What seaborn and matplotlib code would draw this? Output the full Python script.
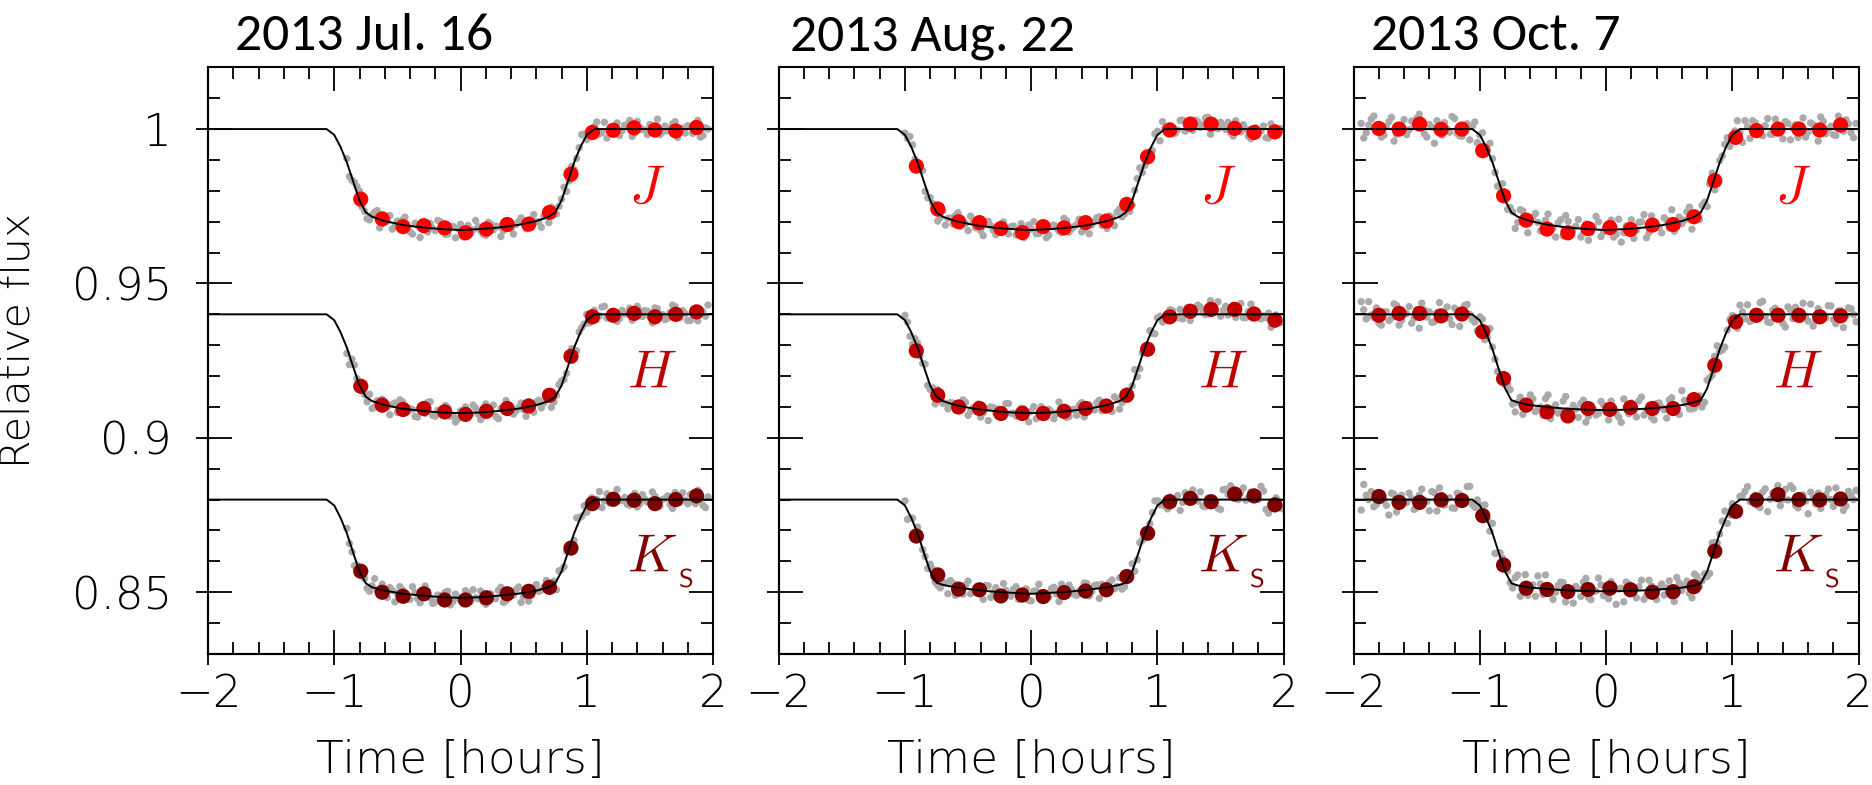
import numpy as np
import pandas as pd
import matplotlib
matplotlib.use("Agg")
import matplotlib.pyplot as plt
import seaborn as sns
from matplotlib import font_manager as fm
from matplotlib.textpath import TextPath
from matplotlib.font_manager import FontProperties
from matplotlib.ticker import MultipleLocator, FixedLocator, FixedFormatter, NullLocator

# ---------------- data (relative flux; H and Ks are shown shifted) ----------------
titles = ["2013 Jul. 16", "2013 Aug. 22", "2013 Oct. 7"]
bands = ["J", "H", "K"]
band_labels = [r"$J$", r"$H$", r"$K_{{}_{\,\mathsf{S}}}$"]

model_t = [-2.0, -1.06, -1.0, -0.95, -0.9, -0.85, -0.8, -0.75, -0.7, -0.6, -0.45, -0.3, -0.15, 0.0,
           0.15, 0.3, 0.45, 0.6, 0.7, 0.75, 0.8, 0.85, 0.9, 0.95, 1.0, 1.06, 2.0]
model_J = [10000, 10000, 9981, 9942, 9892, 9830, 9769, 9730, 9716, 9702, 9689, 9681, 9676, 9673,
           9676, 9681, 9689, 9702, 9716, 9730, 9769, 9830, 9892, 9942, 9981, 10000, 10000]
model_H12 = [10000, 10000, 9981, 9942, 9892, 9830, 9769, 9733, 9719, 9706, 9694, 9687, 9682, 9680,
             9682, 9687, 9694, 9706, 9719, 9733, 9769, 9830, 9892, 9942, 9981, 10000, 10000]
model_H3 = [10000, 10000, 9980, 9939, 9887, 9822, 9760, 9722, 9715, 9706, 9699, 9694, 9691, 9690,
            9691, 9694, 9699, 9706, 9715, 9722, 9760, 9822, 9887, 9939, 9980, 10000, 10000]
model_K1 = [10000, 10000, 9981, 9941, 9891, 9828, 9767, 9729, 9716, 9705, 9695, 9689, 9684, 9682,
            9684, 9689, 9695, 9705, 9716, 9729, 9767, 9828, 9891, 9941, 9981, 10000, 10000]
model_K2 = [10000, 10000, 9981, 9941, 9891, 9828, 9767, 9731, 9724, 9716, 9708, 9702, 9698, 9695,
            9698, 9702, 9708, 9716, 9724, 9731, 9767, 9828, 9891, 9941, 9981, 10000, 10000]
model_K3 = [10000, 10000, 9981, 9941, 9891, 9828, 9767, 9729, 9722, 9715, 9710, 9706, 9704, 9703,
            9704, 9706, 9710, 9715, 9722, 9729, 9767, 9828, 9891, 9941, 9981, 10000, 10000]

# binned points
bin_t_jul = [-0.79, -0.62, -0.455, -0.29, -0.125, 0.04, 0.205, 0.37, 0.54, 0.705, 0.875, 1.045,
             1.21, 1.375, 1.54, 1.705, 1.87]
bin_jul_J = [0.9773, 0.9709, 0.9684, 0.9687, 0.9680, 0.9664, 0.9676, 0.9691, 0.9692, 0.9730, 0.9854,
             0.9989, 0.9996, 1.0004, 0.9997, 0.9994, 1.0005]
bin_jul_H = [0.9767, 0.9706, 0.9692, 0.9695, 0.9684, 0.9676, 0.9686, 0.9695, 0.9703, 0.9738, 0.9864,
             0.9992, 0.9997, 1.0003, 0.9992, 1.0000, 1.0008]
bin_jul_K = [0.9768, 0.9700, 0.9687, 0.9695, 0.9675, 0.9675, 0.9682, 0.9695, 0.9703, 0.9716, 0.9843,
             0.9987, 1.0001, 0.9998, 0.9987, 1.0000, 1.0012]

bin_t_aug = [-0.91, -0.74, -0.575, -0.41, -0.24, -0.07, 0.095, 0.26, 0.43, 0.595, 0.757, 0.922,
             1.097, 1.26, 1.425, 1.612, 1.765, 1.93]
bin_aug_J = [0.9880, 0.9741, 0.9700, 0.9697, 0.9678, 0.9665, 0.9684, 0.9680, 0.9697, 0.9702, 0.9756,
             0.9910, 0.9997, 1.0016, 1.0016, 1.0002, 0.9989, 0.9991]
bin_aug_H = [0.9882, 0.9738, 0.9700, 0.9695, 0.9679, 0.9679, 0.9679, 0.9686, 0.9695, 0.9703, 0.9738,
             0.9887, 0.9992, 1.0010, 1.0016, 1.0016, 1.0001, 0.9981]
bin_aug_K = [0.9882, 0.9756, 0.9710, 0.9708, 0.9688, 0.9691, 0.9686, 0.9699, 0.9704, 0.9708, 0.9751,
             0.9891, 0.9993, 1.0004, 0.9993, 1.0018, 1.0012, 0.9983]

bin_t_oct = [-1.80, -1.64, -1.477, -1.307, -1.142, -0.977, -0.812, -0.633, -0.468, -0.303, -0.143,
             0.03, 0.193, 0.366, 0.531, 0.696, 0.861, 1.026, 1.191, 1.362, 1.527, 1.692, 1.857]
bin_oct_J = [1.0002, 1.0000, 1.0016, 0.9999, 1.0000, 0.9930, 0.9784, 0.9705, 0.9676, 0.9664, 0.9678,
             0.9681, 0.9675, 0.9689, 0.9691, 0.9716, 0.9833, 0.9973, 0.9995, 1.0000, 1.0000, 0.9997, 1.0013]
bin_oct_H = [0.9997, 1.0003, 1.0003, 0.9995, 1.0001, 0.9944, 0.9792, 0.9706, 0.9684, 0.9671, 0.9695,
             0.9692, 0.9698, 0.9695, 0.9695, 0.9724, 0.9835, 0.9976, 0.9997, 0.9997, 0.9997, 0.9992, 0.9995]
bin_oct_K = [1.0010, 0.9991, 0.9991, 0.9999, 0.9997, 0.9948, 0.9788, 0.9713, 0.9709, 0.9702, 0.9709,
             0.9713, 0.9708, 0.9700, 0.9702, 0.9718, 0.9833, 0.9962, 0.9999, 1.0016, 1.0000, 0.9999, 1.0002]

# individual exposures (relative flux x 1e4)
gray_t_jul = [-0.90, -0.86, -0.82, -0.78, -0.74, -0.70, -0.66, -0.62, -0.58, -0.54, -0.50, -0.46,
              -0.42, -0.38, -0.34, -0.30, -0.26, -0.22, -0.18, -0.14, -0.10, -0.06, -0.02, 0.02,
              0.06, 0.10, 0.14, 0.18, 0.22, 0.26, 0.30, 0.34, 0.38, 0.42, 0.46, 0.50, 0.54, 0.58,
              0.62, 0.66, 0.70, 0.74, 0.78, 0.82, 0.86, 0.90, 0.94, 0.98, 1.02, 1.06, 1.10, 1.14,
              1.18, 1.22, 1.26, 1.30, 1.34, 1.38, 1.42, 1.46, 1.50, 1.54, 1.58, 1.62, 1.66, 1.70,
              1.74, 1.78, 1.82, 1.86, 1.90, 1.94]
gray_jul_J = [9904, 9834, 9814, 9748, 9710, 9722, 9736, 9694, 9702, 9676,
              9702, 9705, 9681, 9660, 9687, 9699, 9667, 9678, 9704, 9667,
              9660, 9685, 9678, 9651, 9688, 9673, 9684, 9659, 9698, 9673,
              9684, 9671, 9701, 9660, 9700, 9694, 9682, 9723, 9700, 9718,
              9697, 9740, 9750, 9812, 9832, 9868, 9940, 9984, 9985, 10009,
              9984, 10022, 9992, 10002, 9979, 10012, 10028, 9988, 10005, 9997,
              10015, 9991, 9982, 10010, 10000, 10024, 9994, 9987, 10008, 10019,
              9974, 10004]
gray_jul_H = [9873, 9855, 9792, 9770, 9717, 9695, 9720, 9725, 9699, 9708,
              9682, 9717, 9684, 9692, 9667, 9700, 9715, 9673, 9689, 9680,
              9697, 9672, 9662, 9690, 9681, 9706, 9677, 9671, 9693, 9706,
              9662, 9692, 9701, 9677, 9698, 9691, 9717, 9683, 9722, 9713,
              9726, 9716, 9772, 9789, 9858, 9869, 9943, 9969, 9972, 10013,
              9995, 10026, 9990, 10006, 9986, 10001, 10020, 9992, 10012, 10012,
              9992, 10021, 9997, 9983, 10006, 10025, 9989, 10002, 9980, 10009,
              10015, 9994]
gray_jul_K = [9907, 9831, 9788, 9773, 9713, 9721, 9706, 9726, 9683, 9706,
              9696, 9708, 9677, 9718, 9679, 9689, 9703, 9664, 9691, 9678,
              9703, 9670, 9683, 9663, 9693, 9708, 9679, 9669, 9691, 9680,
              9706, 9667, 9699, 9691, 9717, 9687, 9671, 9715, 9703, 9717,
              9704, 9736, 9769, 9783, 9842, 9868, 9940, 9980, 9981, 9981,
              10026, 9996, 9989, 10015, 9997, 10007, 9982, 10020, 9986, 10001,
              9993, 10011, 9979, 10004, 9984, 10023, 9991, 9998, 10017, 9987,
              10005, 9974]
gray2_t_jul = [-0.88, -0.84, -0.80, -0.76, -0.72, -0.68, -0.64, -0.60, -0.56, -0.52, -0.48, -0.44,
               -0.40, -0.36, -0.32, -0.28, -0.24, -0.20, -0.16, -0.12, -0.08, -0.04, 0.00, 0.04,
               0.08, 0.12, 0.16, 0.20, 0.24, 0.28, 0.32, 0.36, 0.40, 0.44, 0.48, 0.52, 0.56, 0.60,
               0.64, 0.68, 0.72, 0.76, 0.80, 0.84, 0.88, 0.92, 0.96, 1.00, 1.04, 1.08, 1.12, 1.16,
               1.20, 1.24, 1.28, 1.32, 1.36, 1.40, 1.44, 1.48, 1.52, 1.56, 1.60, 1.64, 1.68, 1.72,
               1.76, 1.80, 1.84, 1.88, 1.92, 1.96]
gray2_jul_J = [9846, 9827, 9799, 9734, 9706, 9731, 9680, 9707, 9720, 9684,
               9690, 9715, 9667, 9695, 9649, 9683, 9694, 9671, 9700, 9659,
               9682, 9648, 9692, 9673, 9662, 9704, 9670, 9656, 9692, 9686,
               9652, 9702, 9677, 9691, 9712, 9677, 9708, 9699, 9682, 9730,
               9747, 9725, 9773, 9798, 9879, 9905, 9982, 9966, 9997, 10023,
               9989, 9971, 10007, 10020, 9995, 10014, 9976, 10025, 9998, 9982,
               10009, 10032, 9990, 9994, 10017, 9973, 10003, 10011, 9986, 10028,
               9979, 10000]
gray2_jul_H = [9837, 9836, 9760, 9740, 9741, 9700, 9721, 9702, 9675, 9713,
               9723, 9681, 9695, 9669, 9699, 9679, 9717, 9670, 9684, 9705,
               9670, 9651, 9687, 9700, 9676, 9696, 9659, 9710, 9684, 9669,
               9696, 9721, 9681, 9688, 9713, 9670, 9704, 9716, 9697, 9745,
               9699, 9738, 9784, 9809, 9889, 9882, 9957, 10000, 9992, 9984,
               10024, 9988, 10008, 9977, 10013, 10002, 9981, 10026, 9993, 10010,
               9972, 10018, 9999, 9987, 10030, 9995, 10012, 9980, 10004, 9979,
               10009, 10030]
gray2_jul_K = [9858, 9786, 9779, 9744, 9703, 9744, 9708, 9694, 9715, 9669,
               9718, 9695, 9677, 9699, 9666, 9720, 9682, 9668, 9689, 9700,
               9659, 9694, 9674, 9705, 9670, 9682, 9704, 9661, 9695, 9679,
               9716, 9672, 9693, 9708, 9667, 9702, 9689, 9725, 9707, 9738,
               9711, 9708, 9773, 9832, 9850, 9941, 9946, 9959, 10006, 10001,
               9974, 10019, 9989, 10033, 9997, 9985, 10007, 9976, 10016, 9992,
               10025, 9981, 10000, 10012, 9971, 10006, 10022, 9987, 9994, 10030,
               9982, 10009]

gray_t_aug = [-1.00, -0.96, -0.92, -0.88, -0.84, -0.80, -0.76, -0.72, -0.68, -0.64, -0.60, -0.56,
              -0.52, -0.48, -0.44, -0.40, -0.36, -0.32, -0.28, -0.24, -0.20, -0.16, -0.12, -0.08,
              -0.04, 0.00, 0.04, 0.08, 0.12, 0.16, 0.20, 0.24, 0.28, 0.32, 0.36, 0.40, 0.44, 0.48,
              0.52, 0.56, 0.60, 0.64, 0.68, 0.72, 0.76, 0.80, 0.84, 0.88, 0.92, 0.96, 1.00, 1.04,
              1.08, 1.12, 1.16, 1.20, 1.24, 1.28, 1.32, 1.36, 1.40, 1.44, 1.48, 1.52, 1.56, 1.60,
              1.64, 1.68, 1.72, 1.76, 1.80, 1.84, 1.88, 1.92, 1.96, 2.00]
gray_aug_J = [9987, 9976, 9902, 9869, 9798, 9778, 9753, 9714, 9689, 9712,
              9720, 9685, 9694, 9718, 9680, 9671, 9695, 9687, 9658, 9693,
              9676, 9684, 9657, 9694, 9666, 9676, 9661, 9690, 9648, 9686,
              9679, 9665, 9703, 9677, 9691, 9667, 9702, 9690, 9713, 9688,
              9678, 9714, 9731, 9716, 9747, 9753, 9840, 9859, 9915, 9930,
              9993, 10024, 9988, 10005, 9997, 10029, 10005, 9996, 10024, 10014,
              10038, 10008, 10001, 10011, 10022, 9977, 10007, 10014, 9977, 9995,
              9985, 10010, 9971, 10005, 9990, 9998]
gray_aug_H = [9997, 9929, 9921, 9865, 9839, 9757, 9710, 9732, 9712, 9714,
              9690, 9710, 9715, 9686, 9694, 9667, 9695, 9700, 9679, 9667,
              9711, 9679, 9671, 9696, 9677, 9687, 9662, 9701, 9668, 9684,
              9678, 9697, 9666, 9691, 9673, 9714, 9685, 9694, 9714, 9688,
              9710, 9685, 9727, 9714, 9752, 9768, 9798, 9875, 9901, 9939,
              9989, 9975, 9998, 10012, 9989, 9985, 10021, 10008, 10030, 10007,
              10001, 10022, 10041, 10012, 9998, 10029, 10016, 9989, 10009, 10015,
              9989, 9995, 10004, 9968, 9984, 9974]
gray_aug_K = [9996, 9940, 9893, 9876, 9816, 9791, 9732, 9714, 9730, 9738,
              9690, 9718, 9723, 9695, 9711, 9699, 9722, 9683, 9715, 9699,
              9706, 9687, 9718, 9692, 9711, 9672, 9704, 9698, 9680, 9711,
              9694, 9726, 9691, 9709, 9690, 9707, 9728, 9702, 9724, 9726,
              9708, 9740, 9719, 9710, 9744, 9792, 9805, 9868, 9891, 9958,
              9996, 9990, 9970, 9999, 10013, 9991, 10004, 10031, 9995, 9979,
              10005, 9999, 9972, 10032, 10016, 10026, 10000, 10038, 10005, 10015,
              10000, 10028, 9956, 9993, 9984, 9969]
gray2_t_aug = [-0.98, -0.94] + gray_t_jul + [1.98]
gray2_aug_J = [9970, 9949, 9885, 9866, 9777, 9759, 9702, 9735, 9711, 9693,
               9729, 9690, 9671, 9703, 9693, 9655, 9701, 9672, 9682, 9699,
               9660, 9686, 9672, 9648, 9689, 9700, 9661, 9679, 9656, 9689,
               9670, 9711, 9666, 9684, 9708, 9676, 9661, 9700, 9716, 9695,
               9719, 9687, 9741, 9725, 9733, 9802, 9874, 9882, 9928, 9984,
               9962, 10003, 10011, 9986, 10028, 9993, 10014, 10029, 10005, 10036,
               9983, 10020, 10022, 9999, 9987, 10027, 9991, 10000, 9969, 10005,
               9994, 9972, 10017, 9984, 10001]
gray2_aug_H = [9975, 9903, 9907, 9841, 9770, 9762, 9756, 9712, 9694, 9713,
               9689, 9723, 9673, 9697, 9710, 9681, 9656, 9698, 9693, 9668,
               9711, 9680, 9671, 9695, 9652, 9701, 9681, 9667, 9692, 9662,
               9716, 9681, 9669, 9692, 9706, 9668, 9707, 9690, 9722, 9690,
               9706, 9733, 9693, 9734, 9741, 9821, 9824, 9893, 9947, 9937,
               9994, 9988, 10015, 9991, 10016, 10001, 9980, 10014, 10024, 9999,
               10044, 10011, 9994, 10026, 10017, 9990, 10035, 9989, 10033, 9997,
               9985, 9989, 9958, 9998, 9974]
gray2_aug_K = [9936, 9940, 9911, 9838, 9777, 9775, 9722, 9731, 9695, 9730,
               9714, 9694, 9736, 9700, 9714, 9677, 9721, 9700, 9687, 9728,
               9694, 9710, 9677, 9700, 9674, 9704, 9726, 9693, 9684, 9716,
               9670, 9705, 9723, 9693, 9704, 9730, 9688, 9721, 9680, 9715,
               9732, 9711, 9747, 9718, 9759, 9768, 9861, 9892, 9922, 9996,
               9983, 9978, 10008, 10001, 9965, 10022, 9995, 10006, 10025, 9977,
               10004, 9991, 9968, 10034, 10045, 10005, 10022, 9998, 10024, 10004,
               10043, 9968, 9984, 10006, 9972]

gray_t_oct = [-1.94, -1.90, -1.86, -1.82, -1.78, -1.74, -1.70, -1.66, -1.62, -1.58, -1.54, -1.50,
              -1.46, -1.42, -1.38, -1.34, -1.30, -1.26, -1.22, -1.18, -1.14, -1.10, -1.06, -1.02,
              -0.98, -0.94] + gray_t_jul + [1.98]
gray_oct_J = [10018, 9988, 10032, 9995, 9974, 10009, 10038, 9983, 10003, 9982,
              10026, 10035, 10003, 9974, 10006, 10027, 9980, 10000, 10041, 9986,
              9977, 10017, 10008, 9956, 9988, 9931, 9904, 9815, 9823, 9740,
              9732, 9698, 9735, 9664, 9715, 9698, 9672, 9725, 9679, 9696,
              9654, 9701, 9678, 9707, 9662, 9640, 9684, 9700, 9667, 9687,
              9650, 9708, 9664, 9680, 9646, 9698, 9723, 9665, 9693, 9682,
              9713, 9679, 9669, 9715, 9705, 9747, 9707, 9707, 9763, 9822,
              9803, 9898, 9951, 9944, 9994, 9989, 10027, 9970, 10021, 9998,
              10011, 9983, 10032, 9994, 10024, 9965, 10014, 10003, 9974, 10020,
              9992, 10039, 9985, 10009, 9979, 10002, 10030, 9988, 10018]
gray_oct_H = [10041, 9985, 9998, 10021, 9965, 10008, 9989, 10029, 9980, 10002,
              9971, 10015, 10036, 9991, 9974, 10006, 9986, 10024, 9967, 10012,
              9997, 10032, 9982, 9947, 9984, 9924, 9894, 9815, 9803, 9774,
              9709, 9715, 9676, 9718, 9726, 9692, 9673, 9739, 9692, 9680,
              9719, 9689, 9705, 9666, 9722, 9670, 9693, 9679, 9707, 9658,
              9696, 9667, 9726, 9678, 9690, 9720, 9674, 9704, 9658, 9713,
              9691, 9723, 9702, 9676, 9721, 9694, 9697, 9736, 9715, 9794,
              9864, 9880, 9894, 9983, 9986, 10030, 9986, 9977, 10009, 10038,
              9994, 9973, 10020, 10000, 9959, 10014, 10023, 9983, 9992, 10033,
              9979, 10003, 9988, 10027, 9970, 10011, 9995, 10018, 9976]
gray_oct_K = [9966, 10014, 10026, 9984, 9997, 9981, 10021, 9960, 10014, 9990,
              10003, 9974, 10034, 9994, 10026, 9963, 10014, 10003, 9973, 10021,
              9992, 10042, 9984, 9999, 9944, 9935, 9923, 9827, 9810, 9768,
              9714, 9756, 9714, 9690, 9724, 9753, 9693, 9713, 9677, 9722,
              9731, 9696, 9665, 9711, 9733, 9683, 9703, 9746, 9689, 9679,
              9721, 9711, 9669, 9726, 9702, 9718, 9677, 9739, 9697, 9714,
              9691, 9737, 9670, 9730, 9719, 9697, 9759, 9719, 9760, 9761,
              9861, 9889, 9963, 9950, 9951, 10010, 10027, 9994, 10014, 9974,
              10035, 10001, 10017, 9980, 10033, 10045, 9981, 10008, 9995, 10024,
              9986, 9971, 10016, 10000, 10038, 9990, 9979, 10013, 10030]
gray2_t_oct = [-1.92, -1.88, -1.84, -1.80, -1.76, -1.72, -1.68, -1.64, -1.60, -1.56, -1.52, -1.48,
               -1.44, -1.40, -1.36, -1.32, -1.28, -1.24, -1.20, -1.16, -1.12, -1.08, -1.04, -1.00,
               -0.96, -0.92] + gray2_t_jul
gray2_oct_J = [9971, 10013, 10042, 9994, 9980, 10024, 9961, 10007, 10031, 9998,
               10011, 10048, 9985, 10015, 9954, 10004, 10021, 9990, 10034, 9978,
               10011, 9965, 10023, 9981, 9934, 9954, 9859, 9787, 9787, 9746,
               9678, 9739, 9695, 9705, 9727, 9670, 9705, 9685, 9650, 9706,
               9720, 9662, 9685, 9650, 9693, 9664, 9717, 9652, 9674, 9705,
               9659, 9634, 9686, 9706, 9672, 9700, 9648, 9719, 9683, 9664,
               9704, 9739, 9684, 9694, 9732, 9676, 9724, 9753, 9749, 9857,
               9838, 9913, 9972, 9968, 10027, 9957, 10008, 10027, 9994, 9978,
               10034, 9983, 10011, 9968, 10018, 10003, 9973, 10036, 9990, 10014,
               9961, 10025, 9999, 9982, 10042, 9993, 10017, 9972]
gray2_oct_H = [10015, 10041, 9990, 9972, 10007, 9980, 10034, 9965, 10003, 10025,
               9987, 9955, 10014, 10008, 9976, 10038, 9996, 9985, 10020, 9961,
               10029, 10000, 9975, 9992, 9918, 9954, 9855, 9787, 9771, 9756,
               9684, 9732, 9702, 9739, 9685, 9700, 9727, 9662, 9707, 9683,
               9734, 9668, 9693, 9711, 9651, 9699, 9674, 9718, 9684, 9719,
               9678, 9650, 9699, 9713, 9668, 9732, 9688, 9666, 9711, 9699,
               9664, 9730, 9688, 9753, 9709, 9694, 9728, 9700, 9787, 9803,
               9898, 9884, 9949, 9996, 9955, 10008, 10031, 9982, 9992, 10042,
               9975, 10013, 9997, 9971, 10024, 9986, 10004, 10036, 9978, 9962,
               10018, 9994, 10028, 9983, 10011, 9957, 10021, 9999]
gray2_oct_K = [10049, 10000, 9977, 10010, 10000, 9950, 10017, 9979, 9995, 10021,
               9968, 10014, 9996, 9964, 10022, 10038, 9982, 10006, 9972, 10017,
               9989, 10043, 9975, 9982, 9983, 9898, 9826, 9828, 9797, 9731,
               9747, 9687, 9757, 9713, 9687, 9727, 9756, 9695, 9700, 9733,
               9669, 9709, 9719, 9686, 9745, 9676, 9704, 9724, 9690, 9734,
               9661, 9713, 9733, 9700, 9682, 9739, 9690, 9720, 9676, 9727,
               9714, 9687, 9748, 9706, 9736, 9682, 9752, 9737, 9751, 9860,
               9860, 9930, 9923, 9987, 9967, 10013, 10042, 9994, 9980, 10024,
               9961, 10021, 10045, 10000, 9999, 10036, 9973, 10015, 9954, 10004,
               10021, 9990, 10034, 9978, 10011, 9965, 10027, 10000]

y_ticks = [0.85, 0.9, 0.95, 1.0]
y_tick_labels = ["0.85", "0.9", "0.95", "1"]
x_ticks = [-2, -1, 0, 1, 2]

# ---------------- styling ----------------
sns.set_style("ticks")
plt.rcParams["mathtext.fontset"] = "cm"
plt.rcParams["axes.unicode_minus"] = True
for key in ["text.color", "axes.labelcolor", "xtick.color", "ytick.color", "axes.edgecolor"]:
    plt.rcParams[key] = "black"


def wnum(w):
    if isinstance(w, (int, float)):
        return int(w)
    return int(fm.weight_dict.get(str(w).lower(), 400))


avail = {}
for fe in fm.fontManager.ttflist:
    avail.setdefault(fe.name, set()).add(wnum(fe.weight))


def pick_light(cands):
    for name in cands:
        ws = [w for w in avail.get(name, []) if w <= 300]
        if ws:
            return name, max(ws)
    return "DejaVu Sans", 400


light_font, light_w = pick_light(["DejaVu Sans", "Roboto", "Lato", "Open Sans", "Noto Sans", "Inter"])
title_font = "Carlito" if "Carlito" in avail else ("Lato" if "Lato" in avail else "Open Sans")

plt.rcParams["font.family"] = [light_font, "DejaVu Sans"]
plt.rcParams["font.weight"] = light_w

lfp = FontProperties(family=[light_font, "DejaVu Sans"], weight=light_w)
tfp = FontProperties(family=[title_font, "DejaVu Sans"], weight="normal")


def ext(s, fp):
    e = TextPath((0, 0), s, size=100, prop=fp).get_extents()
    return e.width, e.height


def fit(s, fp, w_px, h_px=None):
    ew, eh = ext(s, fp)
    sw = w_px * 72.0 / ew
    if h_px is None:
        return sw
    sh = h_px * 72.0 / eh
    return float(np.sqrt(sw * sh))


tick_fs = fit("0.95", lfp, 100, 31)
xlab_fs = fit("Time [hours]", lfp, 286, 40)
ylab_fs = fit("Relative flux", lfp, 254, 31)
title_fs = fit("2013 Jul. 16", tfp, 254)

W, H = 1872, 785
fig = plt.figure(figsize=(W / 100, H / 100), dpi=100)
ax_left_px = [208, 778.7, 1353.6]
ax_w_px = 505.0
ax_top_px, ax_bot_px = 67.3, 654.0
title_x_px = [235, 790, 1371]

GRAY = "#AAAAAA"
band_colors = ["#FF0000", "#C00000", "#800000"]
band_offsets = [0.0, -0.06, -0.12]
label_pos = [(1.335, 0.9763), (1.32, 0.9164), (1.32, 0.8564)]

panels = [
    (gray_t_jul, [gray_jul_J, gray_jul_H, gray_jul_K], gray2_t_jul, [gray2_jul_J, gray2_jul_H, gray2_jul_K],
     bin_t_jul, [bin_jul_J, bin_jul_H, bin_jul_K], [model_J, model_H12, model_K1]),
    (gray_t_aug, [gray_aug_J, gray_aug_H, gray_aug_K], gray2_t_aug, [gray2_aug_J, gray2_aug_H, gray2_aug_K],
     bin_t_aug, [bin_aug_J, bin_aug_H, bin_aug_K], [model_J, model_H12, model_K2]),
    (gray_t_oct, [gray_oct_J, gray_oct_H, gray_oct_K], gray2_t_oct, [gray2_oct_J, gray2_oct_H, gray2_oct_K],
     bin_t_oct, [bin_oct_J, bin_oct_H, bin_oct_K], [model_J, model_H3, model_K3]),
]

PX = 0.72  # points per pixel at dpi 100
for i, (gt, gfl, gt2, gfl2, bt, bfl, mfl) in enumerate(panels):
    ax = fig.add_axes([ax_left_px[i] / W, 1 - ax_bot_px / H, ax_w_px / W, (ax_bot_px - ax_top_px) / H])
    for b in range(3):
        n1 = min(len(gt), len(gfl[b]))
        n2 = min(len(gt2), len(gfl2[b]))
        tt = list(gt[:n1]) + list(gt2[:n2])
        ff = list(gfl[b][:n1]) + list(gfl2[b][:n2])
        dfg = pd.DataFrame({"t": tt, "f": np.array(ff) / 1e4 + band_offsets[b]})
        sns.scatterplot(data=dfg, x="t", y="f", ax=ax, color=GRAY, s=28, edgecolor="none",
                        linewidth=0, legend=False, zorder=1)
    for b in range(3):
        dfb = pd.DataFrame({"t": bt, "f": np.array(bfl[b]) + band_offsets[b]})
        sns.scatterplot(data=dfb, x="t", y="f", ax=ax, color=band_colors[b], s=120, edgecolor="none",
                        linewidth=0, legend=False, zorder=3)
    for b in range(3):
        dfm = pd.DataFrame({"t": model_t, "f": np.array(mfl[b]) / 1e4 + band_offsets[b]})
        sns.lineplot(data=dfm, x="t", y="f", ax=ax, color="black", linewidth=1.4, estimator=None,
                     sort=False, legend=False, zorder=4)
    for b in range(3):
        ax.text(label_pos[b][0], label_pos[b][1], band_labels[b], color=band_colors[b], fontsize=39,
                ha="left", va="baseline", zorder=5)

    ax.set_xlim(-2, 2)
    ax.set_ylim(0.83, 1.02)
    ax.set_xlabel("")
    ax.set_ylabel("")
    ax.xaxis.set_major_locator(FixedLocator(x_ticks))
    ax.xaxis.set_minor_locator(MultipleLocator(0.2))
    ax.yaxis.set_major_locator(FixedLocator(y_ticks))
    ax.yaxis.set_major_formatter(FixedFormatter(y_tick_labels))
    ax.yaxis.set_minor_locator(MultipleLocator(0.01))
    for sp in ax.spines.values():
        sp.set_visible(True)
        sp.set_linewidth(1.5)
        sp.set_color("black")
    ax.tick_params(which="major", direction="in", length=24 * PX, width=1.3, top=True, right=True,
                   colors="black")
    ax.tick_params(which="minor", direction="in", length=12 * PX, width=1.3, top=True, right=True,
                   colors="black")
    ax.tick_params(axis="x", which="major", labelsize=tick_fs, pad=14, labelcolor="black")
    ax.tick_params(axis="y", which="major", labelsize=tick_fs, pad=26, labelleft=(i == 0),
                   labelcolor="black")
    for lab in ax.get_xticklabels() + ax.get_yticklabels():
        lab.set_fontproperties(lfp)
        lab.set_fontsize(tick_fs)
        lab.set_color("black")

    # outward stubs of the major ticks on the left and bottom
    sx = ax.secondary_xaxis("bottom")
    sx.xaxis.set_major_locator(FixedLocator(x_ticks))
    sx.xaxis.set_minor_locator(NullLocator())
    sx.tick_params(axis="x", which="major", direction="out", length=11 * PX, width=1.3,
                   labelbottom=False, colors="black")
    sx.spines["bottom"].set_linewidth(1.5)
    sx.spines["bottom"].set_color("black")
    sy = ax.secondary_yaxis("left")
    sy.yaxis.set_major_locator(FixedLocator(y_ticks))
    sy.yaxis.set_minor_locator(NullLocator())
    sy.tick_params(axis="y", which="major", direction="out", length=12 * PX, width=1.3,
                   labelleft=False, colors="black")
    sy.spines["left"].set_linewidth(1.5)
    sy.spines["left"].set_color("black")

    cx = (ax_left_px[i] + ax_w_px / 2) / W
    fig.text(cx, 1 - 773 / H, "Time [hours]", fontproperties=lfp, fontsize=xlab_fs,
             ha="center", va="baseline", color="black")
    fig.text(title_x_px[i] / W, 1 - 50 / H, titles[i], fontproperties=tfp, fontsize=title_fs,
             ha="left", va="baseline", color="black")

fig.text(18 / W, 1 - 340 / H, "Relative flux", fontproperties=lfp, fontsize=ylab_fs,
         rotation=90, ha="center", va="center", color="black")

fig.savefig("out.png", dpi=100)
